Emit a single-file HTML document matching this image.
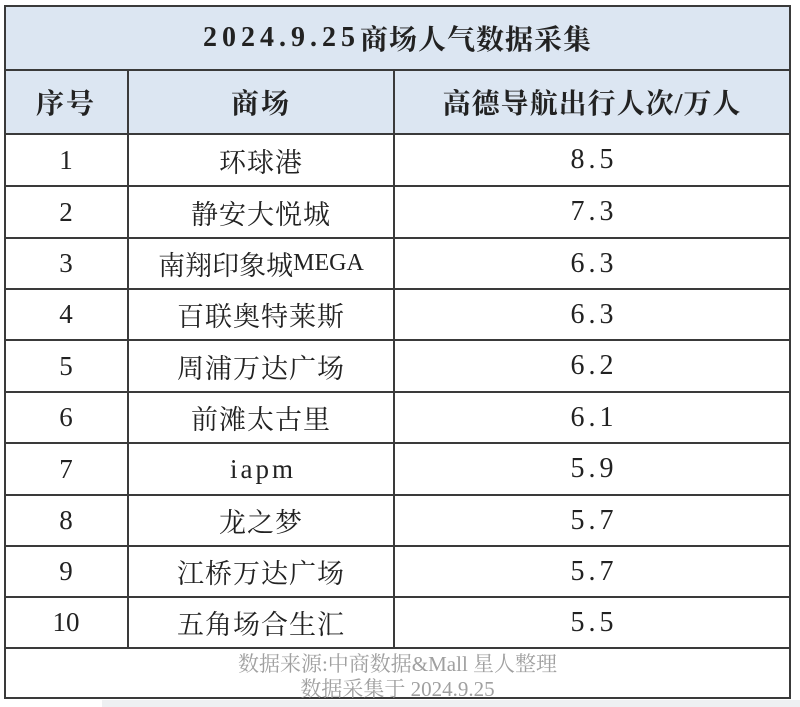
<!DOCTYPE html>
<html><head><meta charset="utf-8"><style>
*{margin:0;padding:0;box-sizing:border-box}
body{width:800px;height:707px;background:#fff;position:relative;overflow:hidden;font-family:"Liberation Serif","Noto Serif CJK SC",serif;color:#222}
.hl{position:absolute;left:4px;width:787px;height:2px;background:#3a3a3a}
.vl{position:absolute;width:2px;background:#3a3a3a}
.c{position:absolute;display:flex;align-items:center;justify-content:center;white-space:nowrap}
.n{font-size:27px}
.t{font-size:27px;letter-spacing:1px}
.v{font-size:28px;letter-spacing:4px;padding-left:4px}
.h{font-weight:bold;font-size:28px;letter-spacing:2px}
</style></head><body>
<div style="position:absolute;left:4px;top:6px;width:787px;height:128px;background:#dce6f2"></div>
<div class="hl" style="top:5px"></div>
<div class="hl" style="top:69px"></div>
<div class="hl" style="top:133px"></div>
<div class="hl" style="top:185px"></div>
<div class="hl" style="top:237px"></div>
<div class="hl" style="top:288px"></div>
<div class="hl" style="top:339px"></div>
<div class="hl" style="top:391px"></div>
<div class="hl" style="top:442px"></div>
<div class="hl" style="top:494px"></div>
<div class="hl" style="top:545px"></div>
<div class="hl" style="top:596px"></div>
<div class="hl" style="top:647px"></div>
<div class="hl" style="top:697px"></div>
<div class="vl" style="left:4px;top:5px;height:694px"></div>
<div class="vl" style="left:789px;top:5px;height:694px"></div>
<div class="vl" style="left:127px;top:69px;height:580px"></div>
<div class="vl" style="left:393px;top:69px;height:580px"></div>
<div class="c h" style="left:4px;width:787px;top:6px;height:64px;letter-spacing:1px"><span style="letter-spacing:5px">2024.9.25</span>商场人气数据采集</div>
<div class="c h" style="left:4px;width:124px;top:70px;height:64px">序号</div>
<div class="c h" style="left:128px;width:266px;top:70px;height:64px">商场</div>
<div class="c h" style="left:394px;width:396px;top:70px;height:64px;letter-spacing:1px">高德导航出行人次/万人</div>

<div class="c n" style="left:4px;width:124px;top:134px;height:52px">1</div><div class="c t" style="left:128px;width:266px;top:134px;height:52px">环球港</div><div class="c v" style="left:394px;width:396px;top:134px;height:52px">8.5</div>
<div class="c n" style="left:4px;width:124px;top:186px;height:52px">2</div><div class="c t" style="left:128px;width:266px;top:186px;height:52px">静安大悦城</div><div class="c v" style="left:394px;width:396px;top:186px;height:52px">7.3</div>
<div class="c n" style="left:4px;width:124px;top:238px;height:51px">3</div><div class="c t" style="left:128px;width:266px;top:238px;height:51px;letter-spacing:0">南翔印象城<span style="font-size:24px">MEGA</span></div><div class="c v" style="left:394px;width:396px;top:238px;height:51px">6.3</div>
<div class="c n" style="left:4px;width:124px;top:289px;height:51px">4</div><div class="c t" style="left:128px;width:266px;top:289px;height:51px">百联奥特莱斯</div><div class="c v" style="left:394px;width:396px;top:289px;height:51px">6.3</div>
<div class="c n" style="left:4px;width:124px;top:340px;height:52px">5</div><div class="c t" style="left:128px;width:266px;top:340px;height:52px">周浦万达广场</div><div class="c v" style="left:394px;width:396px;top:340px;height:52px">6.2</div>
<div class="c n" style="left:4px;width:124px;top:392px;height:51px">6</div><div class="c t" style="left:128px;width:266px;top:392px;height:51px">前滩太古里</div><div class="c v" style="left:394px;width:396px;top:392px;height:51px">6.1</div>
<div class="c n" style="left:4px;width:124px;top:443px;height:52px">7</div><div class="c v" style="left:128px;width:266px;top:443px;height:52px;font-size:27px;letter-spacing:3px">iapm</div><div class="c v" style="left:394px;width:396px;top:443px;height:52px">5.9</div>
<div class="c n" style="left:4px;width:124px;top:495px;height:51px">8</div><div class="c t" style="left:128px;width:266px;top:495px;height:51px">龙之梦</div><div class="c v" style="left:394px;width:396px;top:495px;height:51px">5.7</div>
<div class="c n" style="left:4px;width:124px;top:546px;height:51px">9</div><div class="c t" style="left:128px;width:266px;top:546px;height:51px">江桥万达广场</div><div class="c v" style="left:394px;width:396px;top:546px;height:51px">5.7</div>
<div class="c n" style="left:4px;width:124px;top:597px;height:51px">10</div><div class="c t" style="left:128px;width:266px;top:597px;height:51px">五角场合生汇</div><div class="c v" style="left:394px;width:396px;top:597px;height:51px">5.5</div>

<div class="c" style="left:4px;width:787px;top:650px;height:26px;font-size:21px;color:#a0a0a0">数据来源:中商数据&amp;Mall 星人整理</div>
<div class="c" style="left:4px;width:787px;top:675px;height:26px;font-size:21px;color:#a0a0a0">数据采集于 2024.9.25</div>
<div style="position:absolute;left:102px;top:700px;width:698px;height:7px;background:#eef0f2"></div>
</body></html>
